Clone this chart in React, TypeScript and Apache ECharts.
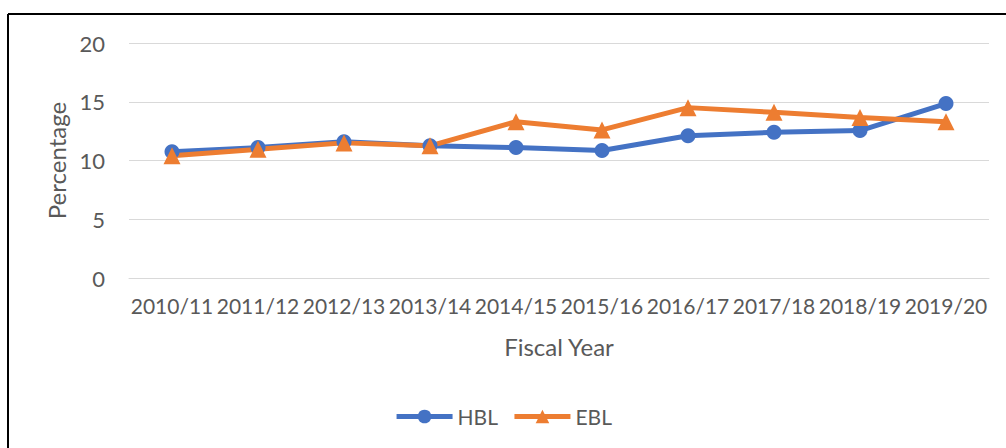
import React, { useEffect, useRef } from "react";
import * as echarts from "echarts";

const categories = ["2010/11", "2011/12", "2012/13", "2013/14", "2014/15", "2015/16", "2016/17", "2017/18", "2018/19", "2019/20"];
const hbl = [10.75, 11.1, 11.6, 11.25, 11.1, 10.85, 12.1, 12.4, 12.55, 14.85];
const ebl = [10.4, 10.95, 11.5, 11.25, 13.3, 12.6, 14.5, 14.1, 13.65, 13.3];
const yTicks = { min: 0, max: 20, interval: 5 };

export default function App() {
  const ref = useRef<HTMLDivElement>(null);
  useEffect(() => {
    const chart = echarts.init(ref.current!, null, { renderer: "svg" });
    const font = "Lato, 'Open Sans', sans-serif";
    chart.setOption({
      animation: false,
      backgroundColor: "#ffffff",
      textStyle: { fontFamily: font },
      grid: { left: 129, right: 17, top: 43, bottom: 170, containLabel: false },
      legend: {
        data: ["HBL", "EBL"],
        bottom: 16,
        left: "center",
        itemWidth: 56,
        itemHeight: 17,
        itemGap: 14,
        lineStyle: { width: 5 },
        textStyle: { fontSize: 21, color: "#595959", fontFamily: font },
      },
      xAxis: {
        type: "category",
        data: categories,
        boundaryGap: true,
        name: "Fiscal Year",
        nameLocation: "middle",
        nameGap: 56,
        nameTextStyle: { fontSize: 24, color: "#595959", fontFamily: font },
        axisLine: { show: true, lineStyle: { color: "#d9d9d9", width: 1 } },
        axisTick: { show: false },
        axisLabel: { fontSize: 21, color: "#595959", margin: 17, interval: 0, fontFamily: font },
      },
      yAxis: {
        type: "value",
        min: yTicks.min,
        max: yTicks.max,
        interval: yTicks.interval,
        name: "Percentage",
        nameLocation: "middle",
        nameGap: 55,
        nameTextStyle: { fontSize: 24, color: "#595959", fontFamily: font },
        axisLine: { show: false },
        axisTick: { show: false },
        axisLabel: { fontSize: 22, color: "#595959", margin: 24, fontFamily: font },
        splitLine: { lineStyle: { color: "#d9d9d9", width: 1 } },
      },
      series: [
        {
          name: "HBL",
          type: "line",
          data: hbl,
          color: "#4472C4",
          lineStyle: { width: 5, color: "#4472C4" },
          symbol: "circle",
          symbolSize: 15,
          itemStyle: { color: "#4472C4" },
        },
        {
          name: "EBL",
          type: "line",
          data: ebl,
          color: "#ED7D31",
          lineStyle: { width: 5, color: "#ED7D31" },
          symbol: "triangle",
          symbolSize: 17,
          itemStyle: { color: "#ED7D31" },
        },
      ],
      graphic: [
        { type: "line", shape: { x1: 8, y1: 14, x2: 1006, y2: 14 }, style: { stroke: "#000", lineWidth: 2 } },
        { type: "line", shape: { x1: 8, y1: 14, x2: 8, y2: 448 }, style: { stroke: "#000", lineWidth: 2 } },
      ],
    });
    return () => chart.dispose();
  }, []);
  return <div ref={ref} style={{ position: "fixed", left: 0, top: 0, width: 1006, height: 448 }} />;
}
